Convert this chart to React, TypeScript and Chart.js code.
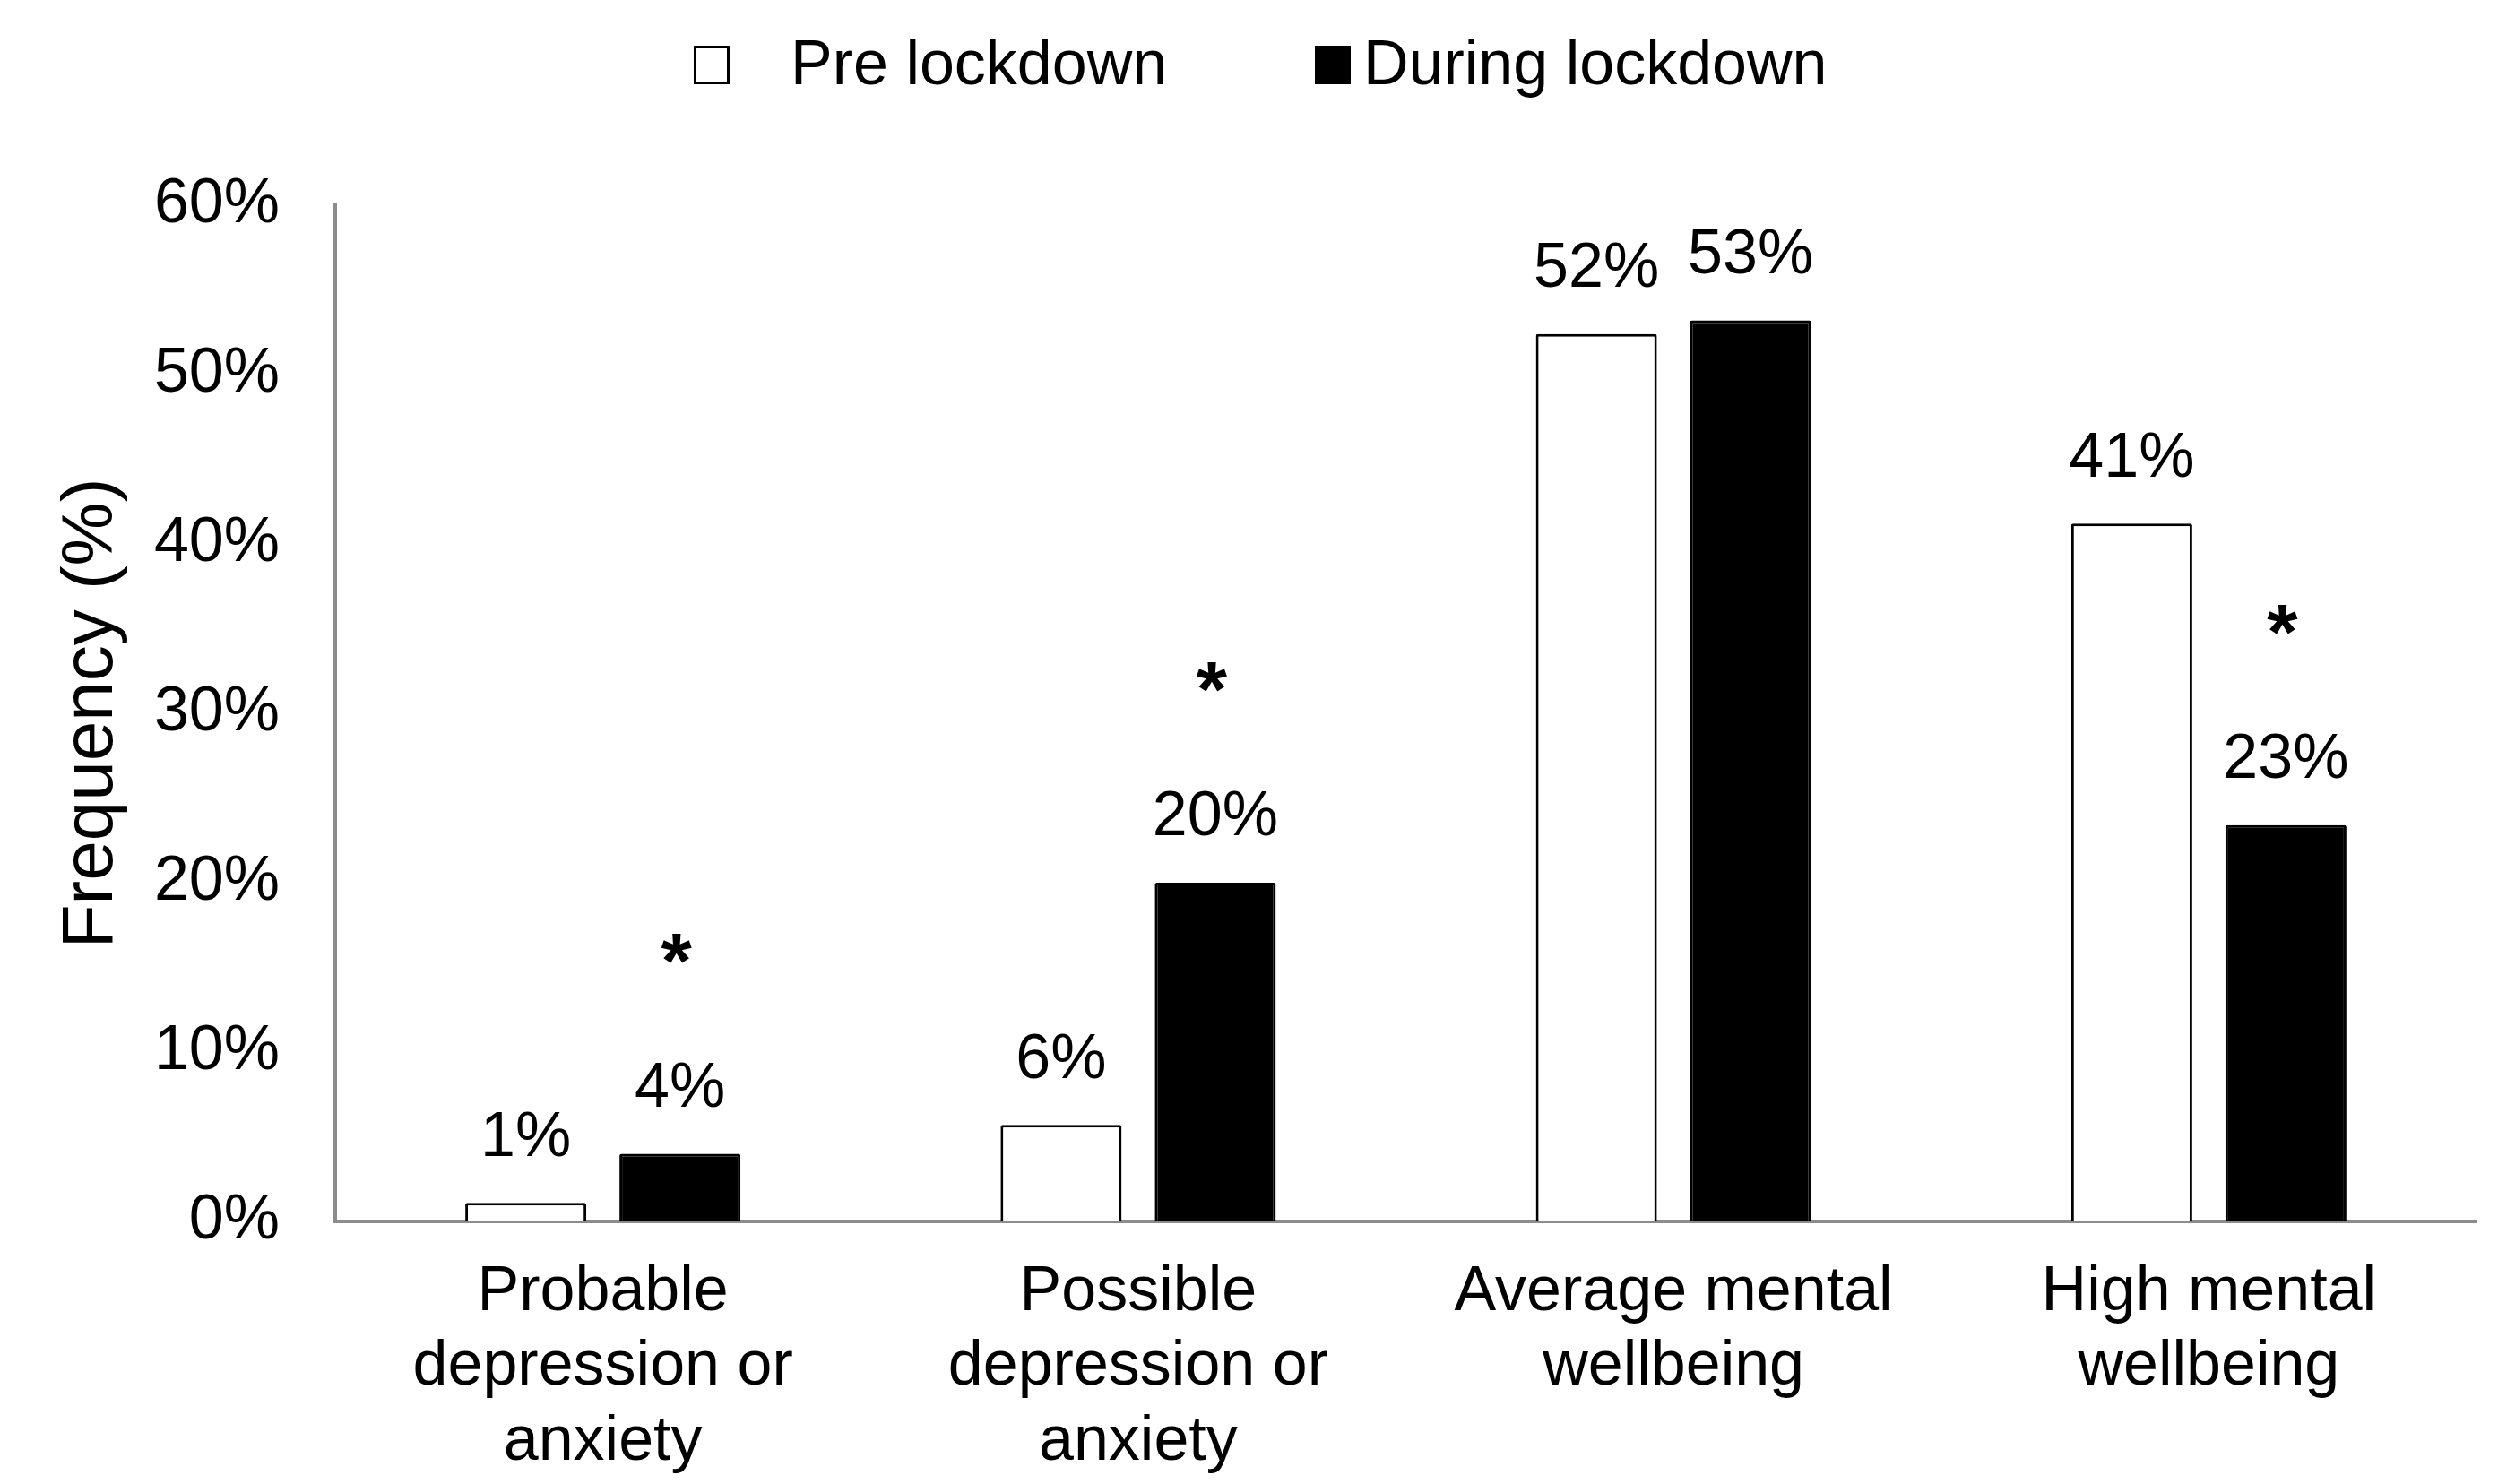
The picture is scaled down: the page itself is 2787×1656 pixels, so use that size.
import React, { useEffect, useRef } from "react";
import { Chart, registerables } from "chart.js";

Chart.register(...registerables);

const categories: string[][] = [
  ["Probable", "depression or", "anxiety"],
  ["Possible", "depression or", "anxiety"],
  ["Average mental", "wellbeing"],
  ["High mental", "wellbeing"],
];
const preLockdown: number[] = [1.1, 5.7, 52.4, 41.2];
const duringLockdown: number[] = [4.0, 20.0, 53.2, 23.4];
const preLabels: string[] = ["1%", "6%", "52%", "41%"];
const duringLabels: string[] = ["4%", "20%", "53%", "23%"];
const significant: boolean[] = [true, true, false, true];
const yTicks: number[] = [0, 10, 20, 30, 40, 50, 60];
const seriesNames: string[] = ["Pre lockdown", "During lockdown"];

const FONT = "'Liberation Sans', Arial, Helvetica, sans-serif";
const W = 2787;
const H = 1656;

const valueLabelPlugin = {
  id: "valueLabels",
  afterDatasetsDraw(chart: any) {
    const ctx = chart.ctx;
    ctx.save();
    ctx.fillStyle = "#000";
    ctx.textAlign = "center";
    ctx.textBaseline = "middle";
    const labelSets = [preLabels, duringLabels];
    chart.data.datasets.forEach((_ds: any, di: number) => {
      const meta = chart.getDatasetMeta(di);
      meta.data.forEach((bar: any, i: number) => {
        ctx.font = `70px ${FONT}`;
        ctx.fillText(labelSets[di][i], bar.x, bar.y - 72);
        if (di === 1 && significant[i]) {
          ctx.font = `bold 88px ${FONT}`;
          ctx.fillText("*", bar.x - 4, bar.y - 210);
        }
      });
    });
    ctx.restore();
  },
};

const customLegendPlugin = {
  id: "customLegend",
  afterDraw(chart: any) {
    const ctx = chart.ctx;
    ctx.save();
    const ds = chart.data.datasets;
    const items = [
      { boxX: 774, textX: 882 },
      { boxX: 1467, textX: 1521 },
    ];
    ctx.font = `70px ${FONT}`;
    ctx.textBaseline = "alphabetic";
    ctx.textAlign = "left";
    items.forEach((it, i) => {
      ctx.fillStyle = ds[i].backgroundColor;
      ctx.strokeStyle = "#000";
      ctx.lineWidth = 3;
      ctx.fillRect(it.boxX, 51, 40, 43);
      ctx.strokeRect(it.boxX + 1.5, 52.5, 37, 40);
      ctx.fillStyle = "#000";
      ctx.fillText(ds[i].label, it.textX, 94);
    });
    ctx.restore();
  },
};

export default function App() {
  const canvasRef = useRef<HTMLCanvasElement | null>(null);

  useEffect(() => {
    document.body.style.margin = "0";
    const canvas = canvasRef.current;
    if (!canvas) return;
    const chart = new Chart(canvas, {
      type: "bar",
      data: {
        labels: categories,
        datasets: [
          {
            label: seriesNames[0],
            data: preLockdown,
            backgroundColor: "#ffffff",
            borderColor: "#000000",
            borderWidth: 3,
            borderRadius: 2,
            borderSkipped: "start",
          },
          {
            label: seriesNames[1],
            data: duringLockdown,
            backgroundColor: "#000000",
            borderColor: "#000000",
            borderWidth: 3,
            borderRadius: 2,
            borderSkipped: "start",
          },
        ],
      },
      options: {
        animation: false,
        responsive: true,
        maintainAspectRatio: false,
        devicePixelRatio: 1,
        categoryPercentage: 0.576,
        barPercentage: 0.785,
        layout: { padding: { top: 229, right: 24, bottom: 0, left: 0 } },
        plugins: {
          legend: { display: false },
          tooltip: { enabled: false },
        },
        scales: {
          x: {
            grid: { display: false, drawTicks: false },
            border: { display: true, color: "#8c8c8c", width: 4 },
            ticks: {
              color: "#000",
              font: { family: FONT, size: 70, lineHeight: 1.19 },
              padding: 38,
              maxRotation: 0,
              minRotation: 0,
              autoSkip: false,
            },
            afterFit: (scale: any) => {
              scale.height = H - 1363;
            },
          },
          y: {
            min: 0,
            max: 60,
            afterBuildTicks: (scale: any) => {
              scale.ticks = yTicks.map((v) => ({ value: v }));
            },
            grid: { display: false, drawTicks: false },
            border: { display: true, color: "#8c8c8c", width: 4 },
            ticks: {
              color: "#000",
              font: { family: FONT, size: 70 },
              padding: 62,
              callback: (v: any) => `${v}%`,
            },
            title: {
              display: true,
              text: "Frequency (%)",
              color: "#000",
              font: { family: FONT, size: 80, lineHeight: 1.2 },
              padding: { top: 55, bottom: 0 },
            },
            afterFit: (scale: any) => {
              scale.width = 374;
            },
          },
        },
      },
      plugins: [valueLabelPlugin, customLegendPlugin],
    });
    return () => chart.destroy();
  }, []);

  return (
    <div style={{ position: "absolute", left: 0, top: 0, width: W, height: H, background: "#fff" }}>
      <canvas ref={canvasRef} />
    </div>
  );
}
